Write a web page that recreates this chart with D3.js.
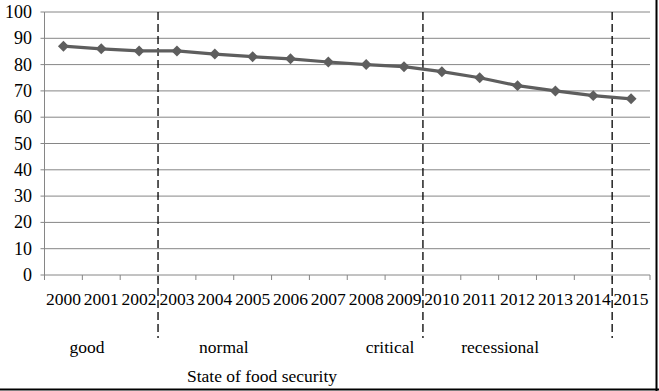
<!DOCTYPE html>
<html lang="en">
<head>
    <meta charset="UTF-8">
    <title>State of food security</title>
    <script src="https://d3js.org/d3.v7.min.js"></script>
    <style>
        body { margin: 0; background: #fff; }
        text { font-family: "Liberation Serif", "Times New Roman", serif; fill: #000; }
    </style>
</head>
<body>
    <script>
        const years = ["2000", "2001", "2002", "2003", "2004", "2005", "2006", "2007",
            "2008", "2009", "2010", "2011", "2012", "2013", "2014", "2015"];
        const values = [87, 86, 85.2, 85.2, 84, 83, 82.2, 81, 80, 79.2, 77.3, 75, 72, 70, 68.2, 67];
        const yTicks = [0, 10, 20, 30, 40, 50, 60, 70, 80, 90, 100];
        // a dashed line sits at the left edge of each of these years
        const periodStarts = ["2003", "2010", "2015"];
        const stateLabels = ["good", "normal", "critical", "recessional"];
        const stateLabelPos = [1.12, 4.74, 9.13, 12.04];  // in band units from the left
        const axisTitle = "State of food security";

        const width = 659, height = 391;
        const plotLeft = 44.5, plotRight = 650, plotTop = 12, plotBottom = 275;

        const svg = d3.select("body").append("svg")
            .attr("width", width)
            .attr("height", height);

        svg.append("rect").attr("width", width).attr("height", height).attr("fill", "#fff");

        const x = d3.scaleBand().domain(years).range([plotLeft, plotRight]).padding(0);
        const y = d3.scaleLinear().domain([0, 100]).range([plotBottom, plotTop]);
        const bw = x.bandwidth();

        // grid lines
        svg.append("g").selectAll("line")
            .data(yTicks)
            .enter().append("line")
            .attr("x1", plotLeft).attr("x2", plotRight)
            .attr("y1", d => y(d)).attr("y2", d => y(d))
            .attr("stroke", "#868686").attr("stroke-width", 1);

        // y axis line and small ticks
        svg.append("line")
            .attr("x1", plotLeft).attr("x2", plotLeft).attr("y1", plotTop).attr("y2", plotBottom)
            .attr("stroke", "#868686");
        svg.append("g").selectAll("line")
            .data(yTicks)
            .enter().append("line")
            .attr("x1", plotLeft - 4).attr("x2", plotLeft)
            .attr("y1", d => y(d)).attr("y2", d => y(d))
            .attr("stroke", "#868686");

        svg.append("g").selectAll("text")
            .data(yTicks)
            .enter().append("text")
            .attr("x", 32)
            .attr("y", d => y(d) + 6)
            .attr("text-anchor", "end")
            .attr("font-size", 18)
            .text(d => d);

        // x ticks at band edges
        const edges = years.map(d => x(d)).concat([plotRight]);
        svg.append("g").selectAll("line")
            .data(edges)
            .enter().append("line")
            .attr("x1", d => d).attr("x2", d => d)
            .attr("y1", plotBottom).attr("y2", plotBottom + 5)
            .attr("stroke", "#868686");

        svg.append("g").selectAll("text")
            .data(years)
            .enter().append("text")
            .attr("x", d => x(d) + bw / 2)
            .attr("y", 305)
            .attr("text-anchor", "middle")
            .attr("font-size", 17.5)
            .text(d => d);

        // dashed period boundaries
        svg.append("g").selectAll("line")
            .data(periodStarts)
            .enter().append("line")
            .attr("x1", d => x(d)).attr("x2", d => x(d))
            .attr("y1", plotTop).attr("y2", 338)
            .attr("stroke", "#000")
            .attr("stroke-width", 1.3)
            .attr("stroke-dasharray", "8,4");

        // series
        const line = d3.line()
            .x((d, i) => x(years[i]) + bw / 2)
            .y(d => y(d));

        svg.append("path")
            .datum(values)
            .attr("d", line)
            .attr("fill", "none")
            .attr("stroke", "#5e5e5e")
            .attr("stroke-width", 3.2);

        const diamond = d3.symbol().type(d3.symbolSquare).size(60);
        svg.append("g").selectAll("path")
            .data(values)
            .enter().append("path")
            .attr("d", diamond)
            .attr("transform", (d, i) => `translate(${x(years[i]) + bw / 2},${y(d)}) rotate(45)`)
            .attr("fill", "#5e5e5e");

        // period labels and axis title
        svg.append("g").selectAll("text")
            .data(stateLabels)
            .enter().append("text")
            .attr("x", (d, i) => plotLeft + stateLabelPos[i] * bw)
            .attr("y", 353)
            .attr("text-anchor", "middle")
            .attr("font-size", 17.5)
            .text(d => d);

        svg.append("text")
            .attr("x", 262)
            .attr("y", 382)
            .attr("text-anchor", "middle")
            .attr("font-size", 17.5)
            .text(axisTitle);

        // frame on right and bottom
        svg.append("line")
            .attr("x1", 656.5).attr("x2", 656.5).attr("y1", 0).attr("y2", 391)
            .attr("stroke", "#000").attr("stroke-width", 2);
        svg.append("line")
            .attr("x1", 0).attr("x2", 659).attr("y1", 389.5).attr("y2", 389.5)
            .attr("stroke", "#000").attr("stroke-width", 2);
    </script>
</body>
</html>
